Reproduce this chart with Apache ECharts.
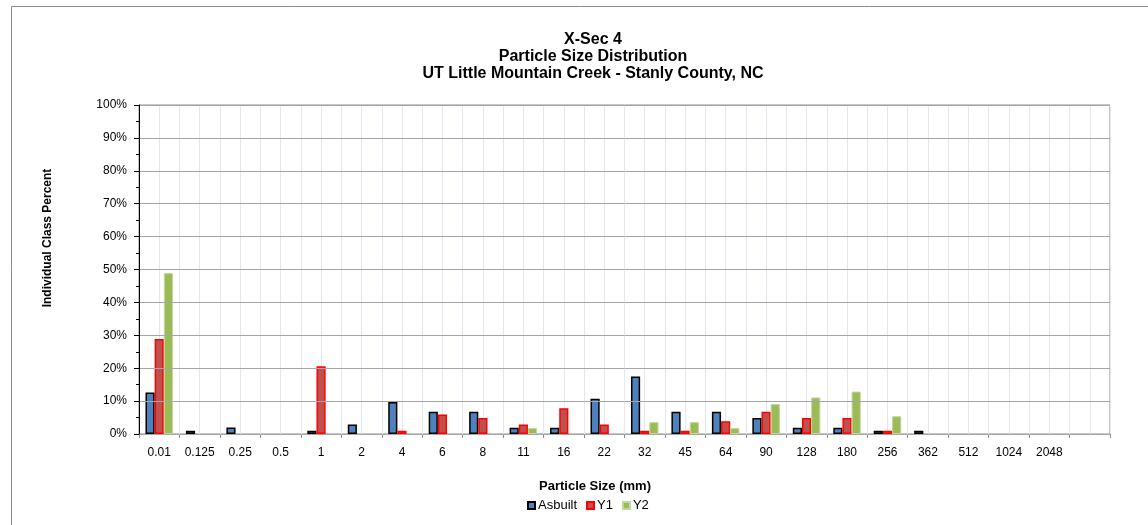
<!DOCTYPE html>
<html>
<head>
<meta charset="utf-8">
<script src="https://cdn.jsdelivr.net/npm/echarts@6/dist/echarts.min.js"></script>
<style>
html,body{margin:0;padding:0;background:#fff;}
#chart{width:1148px;height:525px;}
</style>
</head>
<body>
<div id="chart"></div>
<script>
const categories = ['0.01','0.125','0.25','0.5','1','2','4','6','8','11','16','22','32','45','64','90','128','180','256','362','512','1024','2048',''];
const asbuilt = [12.6, 1, 2, 0, 1, 2.9, 9.7, 6.8, 6.8, 1.9, 1.9, 10.7, 17.5, 6.8, 6.8, 4.9, 1.9, 1.9, 1, 1, 0, 0, 0, 0];
const y1 = [28.9, 0, 0, 0, 20.6, 0, 1, 5.9, 4.9, 2.9, 7.8, 2.9, 1, 1, 3.9, 6.8, 4.9, 4.9, 1, 0, 0, 0, 0, 0];
const y2 = [48.9, 0, 0, 0, 0, 0, 0, 0, 0, 1.8, 0, 0, 3.6, 3.6, 1.8, 9.1, 11.1, 12.9, 5.4, 0, 0, 0, 0, 0];
const yTicks = [0,10,20,30,40,50,60,70,80,90,100];

const noZero = arr => arr.map(v => v === 0 ? null : v);
const font = 'Liberation Sans, Arial, sans-serif';
const chart = echarts.init(document.getElementById('chart'), null, {renderer:'canvas'});
chart.setOption({
  animation: false,
  backgroundColor: '#fff',
  textStyle: {fontFamily: font},
  grid: {left: 139, right: 38, top: 105, bottom: 91, show: true, borderColor: '#8c8c8c', borderWidth: 1},
  graphic: [
    {type:'rect', shape:{x:11.5, y:6.5, width:1200, height:600}, style:{fill:null, stroke:'#8c8c8c', lineWidth:1}, z:-10, silent:true},
    {type:'text', x:593, y:31, style:{text:'X-Sec 4\nParticle Size Distribution\nUT Little Mountain Creek - Stanly County, NC', font:'bold 16px ' + font, fill:'#000', textAlign:'center', lineHeight:17}},
    {type:'text', x:47.5, y:238, rotation:Math.PI/2, style:{text:'Individual Class Percent', font:'bold 12px ' + font, fill:'#000', textAlign:'center', textVerticalAlign:'middle'}},
    {type:'text', x:595, y:486, style:{text:'Particle Size (mm)', font:'bold 13px ' + font, fill:'#000', textAlign:'center', textVerticalAlign:'middle'}}
  ],
  legend: {
    left: 527, top: 499, padding: 0, itemWidth: 7, itemHeight: 7, itemGap: 9, icon: 'rect',
    textStyle: {fontSize: 13, color: '#000', fontFamily: font, padding:[0,0,0,-2]},
    data: ['Asbuilt','Y1','Y2']
  },
  xAxis: [
    {
      type: 'category', data: categories, boundaryGap: true,
      axisLine: {lineStyle: {color: '#000', width: 1}},
      axisTick: {show: true, length: 4, inside: false, lineStyle: {color: '#8c8c8c'}},
      axisLabel: {color: '#000', fontSize: 12, margin: 13, interval: 0, fontFamily: font},
      splitLine: {show: false}
    },
    {
      type: 'value', min: 0, max: 48, interval: 1, show: true, position: 'top',
      axisLine: {show: false}, axisTick: {show: false}, axisLabel: {show: false},
      splitLine: {show: true, lineStyle: {color: '#e2e7f0', width: 1}}
    }
  ],
  yAxis: {
    type: 'value', min: 0, max: 100, interval: 10,
    axisLine: {show: true, lineStyle: {color: '#000', width: 1}},
    axisTick: {show: true, length: 5, lineStyle: {color: '#000'}},
    minorTick: {show: true, splitNumber: 2, length: 3, lineStyle: {color: '#000'}},
    axisLabel: {color: '#000', fontSize: 12, margin: 12, fontFamily: font,
      formatter: v => yTicks.includes(v) ? v + '%' : ''},
    splitLine: {show: true, lineStyle: {color: '#a6a6a6', width: 1}},
    z: 5
  },
  series: [
    {name:'Asbuilt', type:'bar', data: noZero(asbuilt), barGap: '0%', barCategoryGap: '32%',
      itemStyle:{color:'#4f81bd', borderColor:'#000', borderWidth:1.5}},
    {name:'Y1', type:'bar', data: noZero(y1),
      itemStyle:{color:'#c0504d', borderColor:'#ff0000', borderWidth:1.5}},
    {name:'Y2', type:'bar', data: noZero(y2),
      itemStyle:{color:'#9bbb59', borderColor:'#c3d69b', borderWidth:1}}
  ]
});
</script>
</body>
</html>
